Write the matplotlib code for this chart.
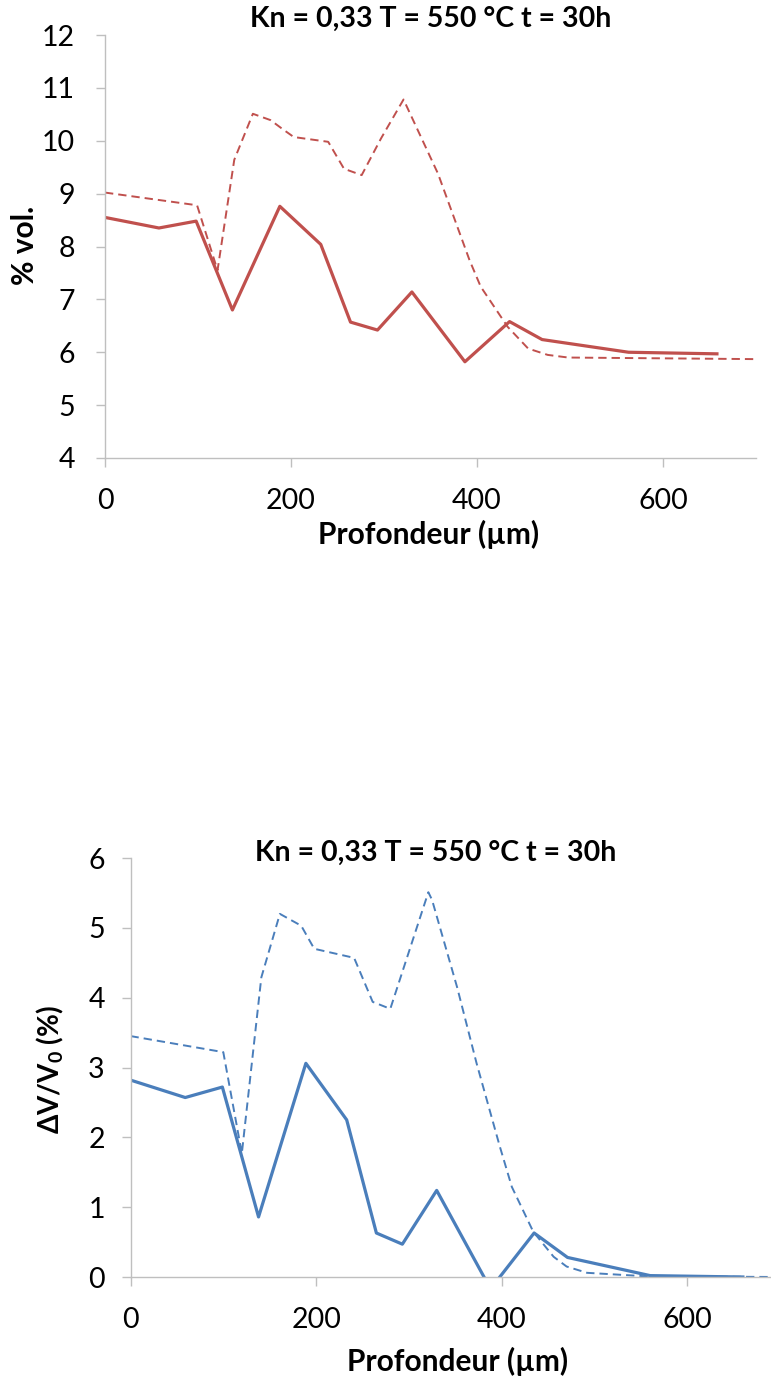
import matplotlib
matplotlib.use('Agg')
import matplotlib.pyplot as plt

# profondeur (um) / valeurs
x_vol = [0, 58, 98, 137, 188, 232, 264, 293, 330, 387, 435, 470, 563, 658]
vol = [8.55, 8.35, 8.48, 6.80, 8.76, 8.04, 6.57, 6.42, 7.14, 5.82, 6.58, 6.24, 6.0, 5.97]

x_vol_calc = [0, 99, 121, 139, 159, 178, 191, 203, 240, 257, 276, 297, 321, 358, 392, 404,
              433, 455, 476, 498, 700]
vol_calc = [9.02, 8.78, 7.55, 9.64, 10.51, 10.39, 10.22, 10.07, 9.98, 9.47, 9.35, 10.05, 10.78,
            9.38, 7.74, 7.24, 6.48, 6.07, 5.95, 5.90, 5.87]

x_dv = [0, 59, 99, 138, 189, 233, 265, 293, 330, 388, 435, 471, 560, 660]
dv = [2.82, 2.57, 2.72, 0.86, 3.06, 2.25, 0.63, 0.47, 1.24, -0.17, 0.63, 0.28, 0.02, 0.0]

x_dv_calc = [0, 100, 120, 141, 161, 184, 198, 241, 261, 280, 321, 325, 352, 373, 398, 411,
             434, 456, 470, 492, 556, 700]
dv_calc = [3.45, 3.22, 1.77, 4.29, 5.20, 5.03, 4.70, 4.57, 3.94, 3.84, 5.51, 5.40, 4.15, 3.06,
           1.87, 1.29, 0.65, 0.29, 0.15, 0.06, 0.01, 0.0]

xticks = [0, 200, 400, 600]
title = 'Kn = 0,33 T = 550 °C t = 30h'
xlabel = 'Profondeur (µm)'

plt.rcParams['font.family'] = ['Lato', 'DejaVu Sans']
plt.rcParams['mathtext.fontset'] = 'custom'
plt.rcParams['mathtext.rm'] = 'Lato'
plt.rcParams['mathtext.bf'] = 'Lato:bold'
plt.rcParams['lines.scale_dashes'] = False

red = '#C0504D'
blue = '#4A7EBB'
grey = '#BFBFBF'

W, H = 771, 1378
fig = plt.figure(figsize=(W / 100, H / 100), dpi=100)


def fx(px):
    return px / W


def fy(py):
    return 1 - py / H


def style(ax, ypad):
    for s in ['top', 'right']:
        ax.spines[s].set_visible(False)
    for s in ['left', 'bottom']:
        ax.spines[s].set_color(grey)
        ax.spines[s].set_linewidth(1.0)
    ax.tick_params(axis='both', colors=grey, labelcolor='black', length=6.5, width=1.0,
                   labelsize=20.5)
    ax.tick_params(axis='x', pad=15)
    ax.tick_params(axis='y', pad=ypad)
    ax.set_xlim(0, 700)
    ax.set_xticks(xticks)


# graphe du haut
ax1 = fig.add_axes([fx(105), fy(458), fx(756 - 105), (458 - 35) / H])
ax1.plot(x_vol, vol, color=red, lw=2.3)
ax1.plot(x_vol_calc, vol_calc, color=red, lw=1.4, dashes=(6, 3.6))
ax1.set_ylim(4, 12)
ax1.set_yticks(range(4, 13))
style(ax1, 15)

fig.text(fx(431), fy(19), title, ha='center', va='center', fontsize=20.5, fontweight='bold')
fig.text(fx(429), fy(534), xlabel, ha='center', va='center', fontsize=21.5, fontweight='bold')
fig.text(fx(25), fy(245), '% vol.', ha='center', va='center', fontsize=21.5,
         fontweight='bold', rotation=90)

# graphe du bas
ax2 = fig.add_axes([fx(130.5), fy(1277), fx(780 - 130.5), (1277 - 858) / H])
ax2.plot(x_dv, dv, color=blue, lw=2.3)
ax2.plot(x_dv_calc, dv_calc, color=blue, lw=1.4, dashes=(6, 3.6))
ax2.set_ylim(0, 6)
ax2.set_yticks(range(0, 7))
style(ax2, 12)

fig.text(fx(436), fy(853), title, ha='center', va='center', fontsize=20.5, fontweight='bold')
fig.text(fx(458), fy(1361), xlabel, ha='center', va='center', fontsize=21.5, fontweight='bold')
fig.text(fx(50), fy(1070), r'ΔV/V$_\mathbf{0}$ (%)', ha='center', va='center', fontsize=20,
         fontweight='bold', rotation=90)

fig.savefig('out.png', dpi=100)
